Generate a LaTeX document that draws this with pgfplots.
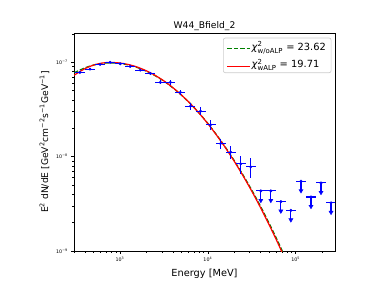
\documentclass[border=0pt]{standalone}
\usepackage{pgfplots}
\pgfplotsset{compat=1.18}
\usepackage{pgfplotstable}
\usepackage{amsmath}
\usepackage{fontspec}
\setmainfont{DejaVu Sans}
\definecolor{mplgreen}{rgb}{0,0.5,0}
\definecolor{mplblue}{rgb}{0,0,1}
\definecolor{mplred}{rgb}{1,0,0}

\pgfplotstableread{
x y xm xp ym yp
351 7.83e-8 43 49 0.15e-8 0.15e-8
456 8.49e-8 56 64 0.2e-8 0.2e-8
594 9.52e-8 73 83 0.2e-8 0.2e-8
773 1.00e-7 95 108 0.2e-8 0.2e-8
1005 9.67e-8 124 141 0.2e-8 0.2e-8
1309 9.07e-8 161 183 0.2e-8 0.2e-8
1702 8.28e-8 209 238 0.25e-8 0.25e-8
2215 7.64e-8 272 310 0.25e-8 0.25e-8
2880 6.14e-8 354 403 0.3e-8 0.3e-8
3750 6.14e-8 461 525 0.35e-8 0.35e-8
4875 4.81e-8 600 683 0.3e-8 0.3e-8
6340 3.43e-8 780 888 0.3e-8 0.3e-8
8260 3.04e-8 1016 1156 0.3e-8 0.3e-8
10740 2.18e-8 1321 1504 0.25e-8 0.25e-8
13970 1.38e-8 1718 1956 0.17e-8 0.15e-8
18190 1.117e-8 2237 2547 0.18e-8 0.18e-8
23650 8.4e-9 2909 3311 1.9e-9 1.8e-9
30770 7.8e-9 3785 4308 1.9e-9 1.8e-9
}\pts

\pgfplotstableread{
x y xm xp ym ya
40090 4.34e-9 4931 5613 0.868e-9 3.44e-9
52120 4.34e-9 6411 7297 0.868e-9 3.44e-9
67760 3.34e-9 8334 9486 0.668e-9 2.65e-9
88100 2.70e-9 10836 12334 0.54e-9 2.14e-9
114800 5.5e-9 14120 16072 1.1e-9 4.36e-9
149300 3.74e-9 18364 20902 0.748e-9 2.97e-9
194100 5.27e-9 23874 27174 1.054e-9 4.18e-9
252400 3.24e-9 31045 35336 0.648e-9 2.57e-9
}\uls

\pgfplotstableread{
x y
300 7.76e-8
398 8.75e-8
501 9.38e-8
631 9.76e-8
776 9.87e-8
1000 9.73e-8
1259 9.37e-8
1585 8.80e-8
1995 8.07e-8
2512 7.23e-8
3162 6.32e-8
3981 5.39e-8
5012 4.49e-8
6310 3.66e-8
7943 2.91e-8
10000 2.255e-8
12589 1.705e-8
15849 1.262e-8
19953 9.12e-9
25119 6.42e-9
31623 4.43e-9
39811 2.98e-9
50119 1.953e-9
63096 1.25e-9
79433 7.8e-10
}\green

\pgfplotstableread{
x y
300 7.30e-8
398 8.57e-8
501 9.36e-8
631 9.85e-8
776 1.00e-7
1000 9.85e-8
1259 9.48e-8
1585 8.90e-8
1995 8.15e-8
2512 7.29e-8
3162 6.37e-8
3981 5.42e-8
5012 4.51e-8
6310 3.66e-8
7943 2.90e-8
10000 2.24e-8
12589 1.69e-8
15849 1.246e-8
19953 8.96e-9
25119 6.29e-9
31623 4.31e-9
39811 2.88e-9
50119 1.877e-9
63096 1.196e-9
79433 7.43e-10
}\red

\begin{document}
\begin{tikzpicture}
\begin{axis}[
  scale only axis, width=261bp, height=218bp,
  xmode=log, ymode=log,
  xmin=300, xmax=2.8e5, ymin=1e-9, ymax=2.05e-7,
  axis line style={line width=0.65bp},
  tick align=outside, tick pos=left,
  major tick length=2.8bp, minor tick length=1.6bp,
  every tick/.style={black, line width=0.65bp},
  xtick={1e3,1e4,1e5},
  xticklabels={10$^{\text{3}}$,10$^{\text{4}}$,10$^{\text{5}}$},
  minor xtick={300,400,500,600,700,800,900,2000,3000,4000,5000,6000,7000,8000,9000,2e4,3e4,4e4,5e4,6e4,7e4,8e4,9e4,2e5},
  ytick={1e-9,1e-8,1e-7},
  yticklabels={10$^{\text{−9}}$,10$^{\text{−8}}$,10$^{\text{−7}}$},
  minor ytick={2e-9,3e-9,4e-9,5e-9,6e-9,7e-9,8e-9,9e-9,2e-8,3e-8,4e-8,5e-8,6e-8,7e-8,8e-8,9e-8,2e-7},
  ticklabel style={font=\fontsize{4.8}{5.5}\selectfont},
  xlabel={Energy [MeV]},
  xlabel style={font=\fontsize{9.8}{11}\selectfont},
  ylabel={E$^{\text{2}}$ dN/dE [GeV$^{\text{2}}$cm$^{\text{−2}}$s$^{\text{−1}}$GeV$^{\text{−1}}$]},
  ylabel style={font=\fontsize{9.2}{11}\selectfont},
  legend style={name=leg, at={(0.985,0.977)}, anchor=north east, draw=none,
    fill=white, font=\fontsize{9.9}{12}\selectfont,
    row sep=3.5bp, inner xsep=3bp, inner ysep=1.2bp},
  legend cell align=left,
  legend image code/.code={\path[draw=none] (0bp,0bp) -- (23bp,0bp);},
]
\addplot[mplgreen, line width=1.2bp, dash pattern=on 4.5bp off 1.9bp, smooth]
  table[x=x,y=y]{\green};
\addlegendentry{\textit{χ}${}^{\text{2}}_{\text{w/oALP}}$ = 23.62}
\addplot[mplred, line width=1.2bp, smooth]
  table[x=x,y=y]{\red};
\addlegendentry{\textit{χ}${}^{\text{2}}_{\text{wALP}}$ = 19.71}

\addplot[mplblue, only marks, mark=*, mark size=1.3bp, forget plot,
  error bars/.cd, x dir=both, x explicit, y dir=both, y explicit,
  error bar style={line width=1.1bp, mplblue}, error mark=none]
  table[x=x, y=y, x error minus=xm, x error plus=xp, y error minus=ym, y error plus=yp]{\pts};
\addplot[mplblue, only marks, mark=*, mark size=1.3bp, forget plot,
  error bars/.cd, x dir=both, x explicit, y dir=minus, y explicit,
  error bar style={line width=1.1bp, mplblue}, error mark=none]
  table[x=x, y=y, x error minus=xm, x error plus=xp, y error minus=ym]{\uls};
\addplot[mplblue, only marks, mark=triangle*, mark size=2.4bp, mark options={rotate=180}, forget plot]
  table[x=x, y=ya]{\uls};
\end{axis}
\draw[black!20, line width=0.65bp, rounded corners=2bp] (leg.south west) rectangle (leg.north east);
\draw[mplgreen, line width=1.2bp, dash pattern=on 4.5bp off 1.9bp] ([shift={(4bp,-10.2bp)}]leg.north west) -- ++(23bp,0bp);
\draw[mplred, line width=1.2bp] ([shift={(4bp,-28.4bp)}]leg.north west) -- ++(23bp,0bp);
\node[anchor=base, font=\fontsize{9.2}{11}\selectfont] at ([yshift=4.5bp]current axis.north) {W44\_Bfield\_2};
\pgfresetboundingbox
\useasboundingbox ([shift={(-74bp,-31bp)}]current axis.south west) rectangle ([shift={(39bp,33bp)}]current axis.north east);
\end{tikzpicture}
\end{document}
